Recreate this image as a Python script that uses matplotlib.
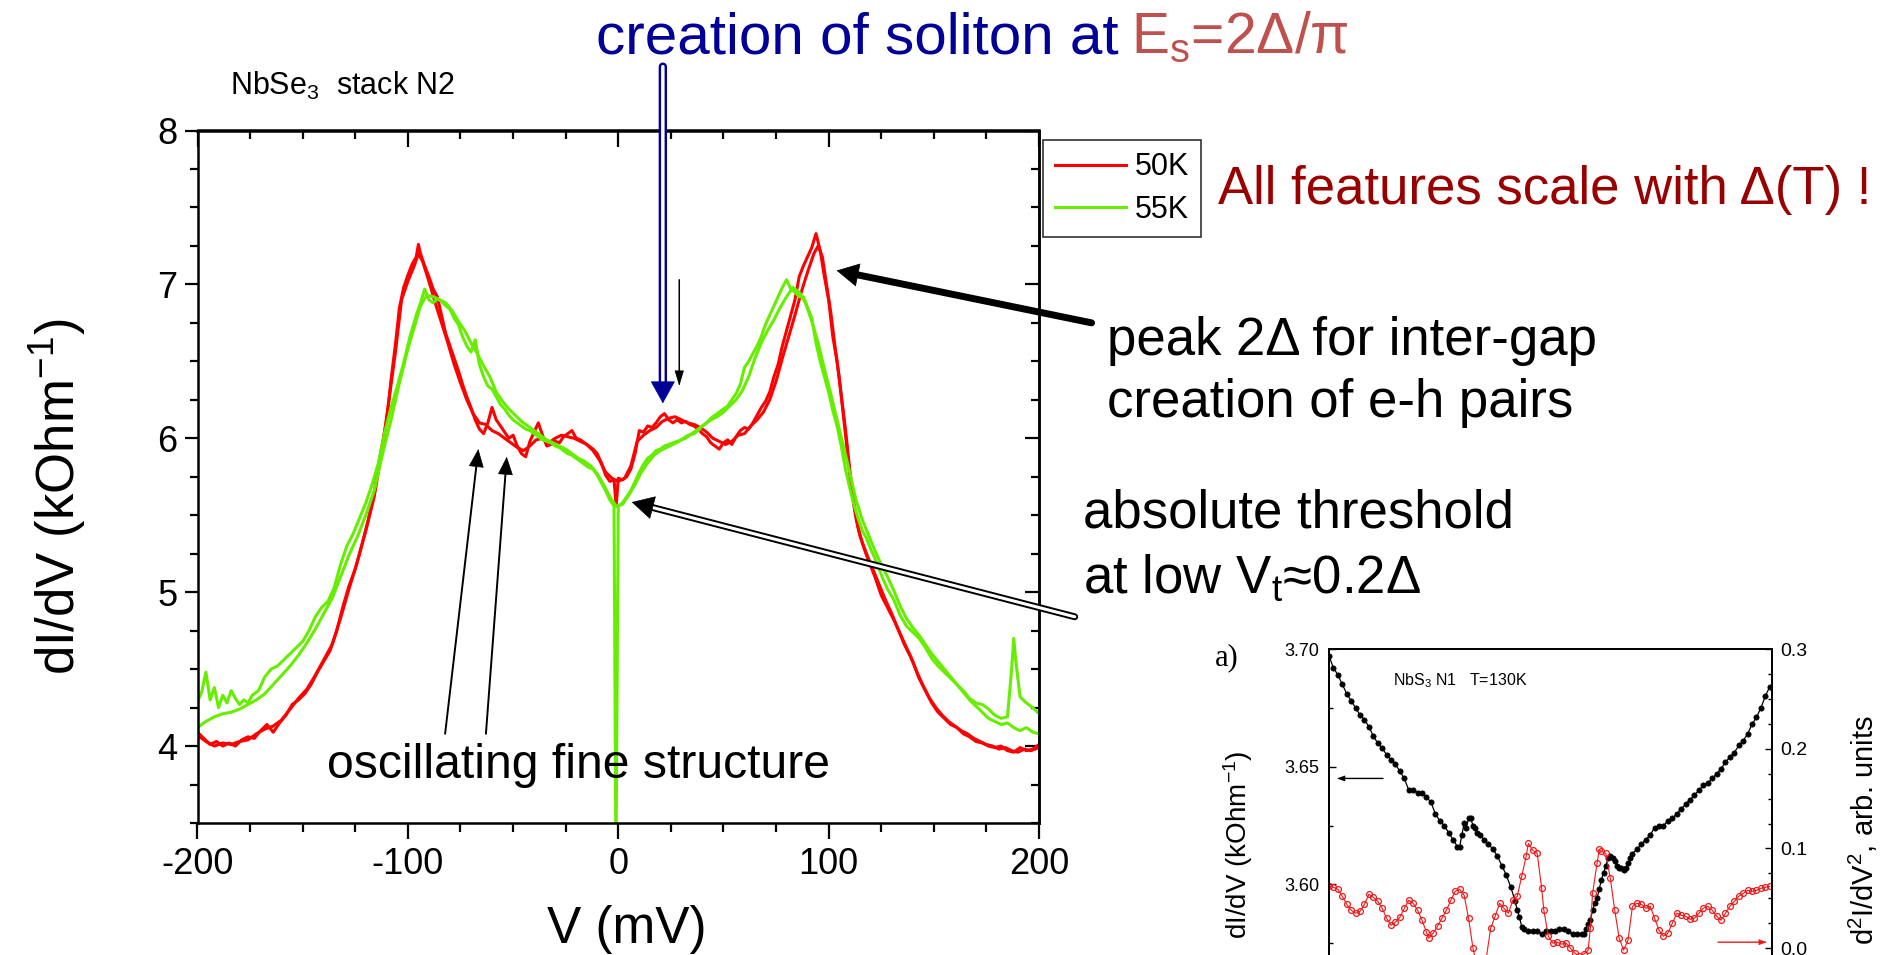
import numpy as np
import matplotlib
matplotlib.use("Agg")
import matplotlib.pyplot as plt
from matplotlib.ticker import MultipleLocator, FormatStrFormatter

plt.rcParams['font.family'] = ['Liberation Sans', 'DejaVu Sans']
plt.rcParams['mathtext.fontset'] = 'custom'
plt.rcParams['mathtext.rm'] = 'Liberation Sans'
plt.rcParams['mathtext.it'] = 'Liberation Sans:italic'
plt.rcParams['mathtext.bf'] = 'Liberation Sans:bold'
plt.rcParams['axes.unicode_minus'] = False

# ---------------- NbSe3 stack N2: dI/dV (kOhm^-1) vs V (mV) ----------------
# 50 K, first sweep
v_50k_a = [-200, -197, -194, -191, -188, -185, -182, -179, -176, -173,
           -170, -167, -164, -161, -158, -155, -152, -149, -146, -143,
           -140, -137, -134, -131, -128, -125, -122, -119, -116, -113,
           -110, -108, -106, -104, -102, -100, -98, -96, -95, -94,
           -92, -90, -88, -86, -84, -82, -80, -78, -76, -74,
           -72, -70, -68, -66, -64, -62, -60, -58, -56, -54,
           -52, -50, -48, -46, -44, -42, -40, -38, -36, -34,
           -32, -30, -28, -26, -24, -22, -20, -18, -16, -14,
           -12, -10, -8, -6, -4, -2, -1, 0, 2, 4,
           6, 8, 10, 12, 14, 16, 18, 20, 22, 24,
           26, 28, 30, 32, 34, 36, 38, 40, 42, 44,
           46, 48, 50, 52, 54, 56, 58, 60, 62, 64,
           66, 68, 70, 72, 74, 76, 78, 80, 82, 84,
           86, 88, 90, 92, 94, 96, 98, 100, 102, 104,
           106, 108, 110, 112, 114, 116, 118, 120, 122, 125,
           128, 131, 134, 137, 140, 143, 146, 149, 152, 155,
           158, 161, 164, 167, 170, 173, 176, 179, 182, 185,
           188, 191, 194, 197, 200]
g_50k_a = [4.09, 4.05, 4.01, 4.03, 4.00, 4.02, 4.00, 4.04, 4.06, 4.05,
           4.10, 4.14, 4.09, 4.15, 4.20, 4.27, 4.30, 4.34, 4.40, 4.48,
           4.55, 4.62, 4.74, 4.90, 5.04, 5.15, 5.30, 5.46, 5.65, 5.90,
           6.12, 6.38, 6.60, 6.85, 6.98, 7.06, 7.13, 7.18, 7.26, 7.20,
           7.12, 7.05, 6.97, 6.92, 6.80, 6.68, 6.60, 6.52, 6.44, 6.35,
           6.27, 6.20, 6.12, 6.06, 6.03, 6.10, 6.20, 6.12, 6.08, 6.04,
           6.00, 6.02, 5.95, 5.90, 5.88, 5.98, 6.04, 6.10, 6.02, 5.95,
           5.96, 5.98, 5.97, 6.01, 6.03, 6.05, 6.00, 5.99, 5.97, 5.95,
           5.93, 5.90, 5.84, 5.76, 5.72, 5.73, 5.56, 5.74, 5.73, 5.75,
           5.80, 5.90, 6.05, 6.04, 6.08, 6.07, 6.10, 6.14, 6.16, 6.12,
           6.10, 6.12, 6.10, 6.11, 6.09, 6.08, 6.06, 6.03, 6.01, 5.97,
           5.95, 5.93, 5.97, 5.99, 5.96, 6.01, 6.05, 6.07, 6.06, 6.10,
           6.15, 6.20, 6.24, 6.30, 6.40, 6.48, 6.60, 6.70, 6.80, 6.90,
           7.05, 7.12, 7.18, 7.24, 7.33, 7.22, 7.05, 6.90, 6.66, 6.50,
           6.28, 6.06, 5.80, 5.58, 5.42, 5.32, 5.24, 5.17, 5.10, 4.98,
           4.90, 4.82, 4.73, 4.64, 4.55, 4.44, 4.36, 4.28, 4.22, 4.18,
           4.14, 4.12, 4.08, 4.06, 4.03, 4.02, 4.00, 3.99, 4.00, 3.97,
           3.96, 3.99, 3.97, 3.98, 4.01]

# 50 K, return sweep
v_50k_b = [-200, -196, -192, -188, -184, -180, -176, -172, -168, -164,
           -160, -156, -152, -148, -144, -140, -136, -132, -128, -124,
           -120, -116, -112, -109, -106, -103, -100, -97, -95, -93,
           -90, -87, -84, -81, -78, -75, -72, -69, -66, -63,
           -60, -57, -54, -51, -48, -45, -42, -39, -36, -33,
           -30, -27, -24, -21, -18, -15, -12, -9, -6, -3,
           0, 3, 6, 9, 12, 15, 18, 21, 24, 27,
           30, 33, 36, 39, 42, 45, 48, 51, 54, 57,
           60, 63, 66, 69, 72, 75, 78, 81, 84, 87,
           90, 93, 95, 97, 99, 101, 103, 105, 107, 109,
           111, 113, 115, 118, 121, 124, 127, 130, 133, 136,
           139, 142, 145, 148, 151, 154, 157, 160, 163, 166,
           169, 172, 175, 178, 181, 184, 187, 190, 193, 196,
           200]
g_50k_b = [4.07, 4.03, 4.00, 4.02, 4.01, 4.03, 4.04, 4.08, 4.11, 4.13,
           4.17, 4.24, 4.31, 4.37, 4.46, 4.56, 4.66, 4.83, 5.02, 5.20,
           5.40, 5.62, 5.95, 6.25, 6.55, 6.90, 7.02, 7.12, 7.20, 7.15,
           7.02, 6.88, 6.75, 6.62, 6.48, 6.36, 6.25, 6.16, 6.10, 6.09,
           6.05, 6.03, 6.00, 5.97, 5.94, 5.92, 5.95, 5.99, 6.00, 5.97,
           6.00, 6.02, 6.01, 6.00, 5.98, 5.96, 5.92, 5.86, 5.78, 5.74,
           5.72, 5.74, 5.82, 5.98, 6.02, 6.05, 6.07, 6.11, 6.13, 6.14,
           6.12, 6.10, 6.09, 6.07, 6.04, 6.00, 5.98, 5.96, 5.98, 6.02,
           6.03, 6.08, 6.12, 6.17, 6.25, 6.37, 6.52, 6.66, 6.80, 6.95,
           7.08, 7.20, 7.25, 7.18, 7.00, 6.82, 6.60, 6.40, 6.15, 5.90,
           5.65, 5.48, 5.36, 5.25, 5.15, 5.05, 4.95, 4.86, 4.76, 4.66,
           4.58, 4.48, 4.39, 4.31, 4.25, 4.20, 4.16, 4.13, 4.10, 4.08,
           4.05, 4.03, 4.01, 4.00, 3.98, 3.99, 3.97, 3.96, 3.98, 3.97,
           3.99]

# 55 K, first sweep
v_55k_a = [-200, -198, -196, -194, -192, -190, -188, -186, -184, -182,
           -180, -178, -176, -174, -171, -168, -165, -162, -159, -156,
           -153, -150, -147, -144, -141, -138, -135, -132, -129, -126,
           -123, -120, -117, -114, -111, -108, -105, -102, -99, -96,
           -94, -92, -90, -88, -86, -84, -82, -80, -78, -76,
           -74, -72, -70, -68, -66, -64, -62, -60, -58, -56,
           -54, -52, -50, -48, -46, -44, -42, -40, -38, -36,
           -34, -32, -30, -28, -26, -24, -22, -20, -18, -16,
           -14, -12, -10, -8, -6, -4, -2, -1.1, 0, 2,
           4, 6, 8, 10, 12, 14, 16, 18, 20, 22,
           24, 26, 28, 30, 32, 34, 36, 38, 40, 42,
           44, 46, 48, 50, 52, 54, 56, 58, 60, 62,
           64, 66, 68, 70, 72, 74, 76, 78, 80, 82,
           84, 86, 88, 90, 92, 94, 96, 98, 100, 102,
           104, 106, 108, 110, 112, 114, 116, 118, 120, 122,
           124, 126, 128, 131, 134, 137, 140, 143, 146, 149,
           152, 155, 158, 161, 164, 167, 170, 173, 176, 179,
           182, 185, 187, 188, 189, 191, 194, 197, 200]
g_55k_a = [4.29, 4.35, 4.48, 4.30, 4.38, 4.25, 4.33, 4.28, 4.36, 4.31,
           4.27, 4.30, 4.28, 4.33, 4.36, 4.45, 4.50, 4.52, 4.56, 4.60,
           4.64, 4.68, 4.75, 4.84, 4.90, 4.94, 5.03, 5.18, 5.30, 5.38,
           5.48, 5.58, 5.70, 5.84, 6.04, 6.20, 6.34, 6.49, 6.66, 6.80,
           6.88, 6.97, 6.90, 6.88, 6.91, 6.89, 6.86, 6.84, 6.78, 6.74,
           6.66, 6.60, 6.56, 6.64, 6.48, 6.40, 6.34, 6.32, 6.27, 6.22,
           6.19, 6.15, 6.12, 6.10, 6.08, 6.06, 6.05, 6.03, 6.01, 5.99,
           5.98, 5.97, 5.95, 5.94, 5.92, 5.90, 5.89, 5.87, 5.85, 5.83,
           5.81, 5.80, 5.76, 5.71, 5.66, 5.60, 5.56, 3.20, 5.56, 5.58,
           5.62, 5.66, 5.72, 5.78, 5.83, 5.87, 5.89, 5.92, 5.93, 5.95,
           5.96, 5.97, 5.98, 5.99, 6.00, 6.02, 6.03, 6.05, 6.08, 6.10,
           6.13, 6.15, 6.17, 6.19, 6.21, 6.25, 6.29, 6.35, 6.46, 6.50,
           6.55, 6.60, 6.66, 6.74, 6.80, 6.86, 6.92, 6.98, 7.03, 6.97,
           6.95, 6.92, 6.92, 6.85, 6.78, 6.62, 6.50, 6.40, 6.30, 6.18,
           6.08, 5.95, 5.80, 5.68, 5.57, 5.48, 5.40, 5.35, 5.28, 5.22,
           5.15, 5.08, 5.02, 4.95, 4.85, 4.78, 4.74, 4.70, 4.64, 4.57,
           4.52, 4.48, 4.44, 4.40, 4.36, 4.31, 4.28, 4.27, 4.24, 4.20,
           4.18, 4.19, 4.50, 4.70, 4.55, 4.32, 4.28, 4.25, 4.21]

# 55 K, return sweep
v_55k_b = [-200, -196, -192, -188, -184, -180, -176, -172, -168, -164,
           -160, -156, -152, -148, -144, -140, -136, -132, -128, -124,
           -120, -116, -112, -108, -104, -100, -97, -94, -91, -88,
           -85, -82, -79, -76, -73, -70, -67, -64, -61, -58,
           -55, -52, -49, -46, -43, -40, -37, -34, -31, -28,
           -25, -22, -19, -16, -13, -10, -7, -4, -1, 2,
           5, 8, 11, 14, 17, 20, 23, 26, 29, 32,
           35, 38, 41, 44, 47, 50, 53, 56, 59, 62,
           65, 68, 71, 74, 77, 80, 83, 86, 89, 92,
           95, 98, 101, 104, 107, 110, 113, 116, 119, 122,
           125, 128, 131, 134, 137, 140, 143, 146, 149, 152,
           155, 158, 161, 164, 167, 170, 173, 176, 179, 182,
           185, 188, 191, 194, 197, 200]
g_55k_b = [4.12, 4.16, 4.19, 4.21, 4.22, 4.24, 4.27, 4.30, 4.34, 4.40,
           4.46, 4.52, 4.59, 4.67, 4.76, 4.86, 4.96, 5.10, 5.24, 5.36,
           5.50, 5.66, 5.90, 6.12, 6.36, 6.58, 6.72, 6.86, 6.93, 6.92,
           6.90, 6.88, 6.83, 6.76, 6.70, 6.62, 6.55, 6.47, 6.40, 6.30,
           6.24, 6.19, 6.15, 6.11, 6.08, 6.05, 6.02, 5.99, 5.97, 5.95,
           5.93, 5.90, 5.87, 5.85, 5.82, 5.77, 5.70, 5.62, 5.56, 5.57,
           5.63, 5.70, 5.78, 5.84, 5.89, 5.92, 5.94, 5.96, 5.98, 6.01,
           6.03, 6.06, 6.09, 6.12, 6.14, 6.17, 6.21, 6.25, 6.31, 6.40,
           6.52, 6.62, 6.70, 6.77, 6.85, 6.92, 6.98, 6.95, 6.88, 6.76,
           6.62, 6.45, 6.29, 6.12, 5.95, 5.78, 5.60, 5.47, 5.37, 5.27,
           5.18, 5.10, 5.01, 4.91, 4.83, 4.77, 4.72, 4.66, 4.60, 4.55,
           4.50, 4.45, 4.40, 4.35, 4.30, 4.26, 4.22, 4.18, 4.16, 4.14,
           4.15, 4.12, 4.10, 4.12, 4.09, 4.08]

series_labels = ['50K', '55K']
series_colors = ['#ff0000', '#66ee00']

x_ticks = [-200, -100, 0, 100, 200]
y_ticks = [4, 5, 6, 7, 8]

# ---------------- NbS3 N1, T = 130 K ----------------
v_nbs3 = [-100, -98, -96, -94, -92, -90, -88, -86, -84, -82,
          -80, -78, -76, -74, -72, -70, -68, -66, -64, -62,
          -60, -58, -56, -54, -52, -50, -48, -46, -44, -42,
          -41, -40, -39, -38, -37, -36, -35, -34, -33, -32,
          -30, -28, -26, -24, -22, -20, -18, -16, -15, -14,
          -13, -12, -10, -8, -6, -4, -2, 0, 2, 4,
          6, 8, 10, 12, 14, 15, 16, 17, 18, 19,
          20, 21, 22, 23, 24, 25, 26, 27, 28, 29,
          30, 31, 32, 33, 34, 35, 36, 37, 39, 41,
          43, 45, 47, 49, 51, 53, 55, 57, 59, 61,
          63, 65, 67, 69, 71, 73, 75, 77, 79, 81,
          83, 85, 87, 89, 91, 93, 95, 97, 99]
g_nbs3 = [3.697, 3.692, 3.689, 3.685, 3.681, 3.678, 3.675, 3.672, 3.670, 3.667,
          3.663, 3.660, 3.658, 3.655, 3.653, 3.651, 3.648, 3.645, 3.640, 3.640,
          3.639, 3.639, 3.637, 3.635, 3.630, 3.627, 3.625, 3.622, 3.619, 3.616,
          3.616, 3.621, 3.626, 3.624, 3.628, 3.628, 3.625, 3.624, 3.622, 3.621,
          3.619, 3.617, 3.615, 3.612, 3.608, 3.604, 3.599, 3.593, 3.589, 3.586,
          3.582, 3.581, 3.580, 3.580, 3.580, 3.579, 3.580, 3.580, 3.580, 3.581,
          3.581, 3.580, 3.579, 3.579, 3.579, 3.579, 3.581, 3.583, 3.585, 3.589,
          3.592, 3.594, 3.598, 3.602, 3.605, 3.608, 3.611, 3.612, 3.611, 3.610,
          3.608, 3.607, 3.607, 3.606, 3.607, 3.609, 3.611, 3.613, 3.615, 3.617,
          3.619, 3.621, 3.624, 3.625, 3.625, 3.627, 3.628, 3.630, 3.632, 3.634,
          3.636, 3.638, 3.640, 3.642, 3.643, 3.645, 3.647, 3.649, 3.652, 3.654,
          3.656, 3.659, 3.661, 3.664, 3.668, 3.671, 3.675, 3.680, 3.684]
g_nbs3_ticks = [3.60, 3.65, 3.70]

v_nbs3_d2 = [-100, -98, -96, -94, -92, -90, -88, -86, -84, -82,
             -80, -78, -76, -74, -72, -70, -68, -66, -64, -62,
             -60, -58, -56, -55, -53, -51, -49, -47, -45, -43,
             -41, -39, -37, -35, -33, -31, -29, -27, -25, -23,
             -21, -19, -17, -15, -13, -11, -10, -8, -6, -4,
             -3, -1, 1, 3, 5, 7, 9, 11, 13, 15,
             17, 18, 19, 21, 22, 23, 25, 27, 29, 31,
             33, 35, 37, 39, 41, 43, 45, 47, 49, 51,
             53, 55, 57, 59, 61, 63, 65, 67, 69, 71,
             73, 75, 77, 79, 81, 83, 85, 87, 89, 91,
             93, 95, 97, 99]
d2_nbs3 = [0.062, 0.061, 0.059, 0.052, 0.044, 0.038, 0.035, 0.037, 0.044, 0.054,
           0.051, 0.047, 0.040, 0.030, 0.023, 0.026, 0.031, 0.040, 0.048, 0.045,
           0.038, 0.028, 0.016, 0.010, 0.015, 0.022, 0.030, 0.038, 0.048, 0.057,
           0.059, 0.053, 0.030, 0.000, -0.020, -0.025, -0.010, 0.020, 0.032, 0.045,
           0.040, 0.035, 0.048, 0.052, 0.072, 0.092, 0.105, 0.098, 0.095, 0.060,
           0.038, 0.012, 0.005, 0.006, 0.004, 0.005, 0.000, -0.005, -0.008, -0.006,
           -0.002, 0.020, 0.055, 0.085, 0.099, 0.097, 0.095, 0.070, 0.038, 0.010,
           -0.002, 0.008, 0.042, 0.045, 0.044, 0.040, 0.042, 0.030, 0.018, 0.012,
           0.015, 0.025, 0.035, 0.033, 0.032, 0.029, 0.030, 0.035, 0.040, 0.042,
           0.038, 0.032, 0.028, 0.035, 0.042, 0.047, 0.052, 0.055, 0.058, 0.057,
           0.058, 0.060, 0.061, 0.062]
d2_nbs3_ticks = [0.0, 0.1, 0.2, 0.3]

W, H = 1894, 955
fig = plt.figure(figsize=(W / 100, H / 100), dpi=100)
fig.patch.set_facecolor('white')


def fx(px):
    return px / W


def fy(py):
    return 1 - py / H


def arrow(axx, tip, tail, color, lw, head_len, head_w, inner=None):
    """Straight arrow in data coordinates; optional hollow (double-line) shaft."""
    tr = axx.transData
    p1 = np.asarray(tr.transform(tip), float)
    p0 = np.asarray(tr.transform(tail), float)
    d = p1 - p0
    u = d / np.hypot(*d)
    base = tr.inverted().transform(p1 - u * head_len * fig.dpi / 72.0)
    kw = dict(xycoords='data', textcoords='data', annotation_clip=False)
    axx.annotate('', xy=base, xytext=tail,
                 arrowprops=dict(arrowstyle='-', lw=lw, color=color,
                                 shrinkA=0, shrinkB=0), **kw)
    if inner:
        axx.annotate('', xy=base, xytext=tail,
                     arrowprops=dict(arrowstyle='-', lw=inner, color='white',
                                     shrinkA=0, shrinkB=0), **kw)
    axx.annotate('', xy=tip, xytext=base,
                 arrowprops=dict(arrowstyle=f'-|>,head_length={head_len},head_width={head_w}',
                                 lw=0.5, color=color, shrinkA=0, shrinkB=0,
                                 mutation_scale=1), **kw)


# ---------------- main panel ----------------
ax = fig.add_axes([fx(197.5), fy(823), fx(1039 - 197.5), (823 - 130.5) / H])
lw_curve = 2.2
l50, = ax.plot(v_50k_a, g_50k_a, color=series_colors[0], lw=lw_curve, label=series_labels[0])
ax.plot(v_50k_b, g_50k_b, color=series_colors[0], lw=lw_curve)
l55, = ax.plot(v_55k_a, g_55k_a, color=series_colors[1], lw=lw_curve, label=series_labels[1])
ax.plot(v_55k_b, g_55k_b, color=series_colors[1], lw=lw_curve)

ax.set_xlim(-200, 200)
ax.set_ylim(3.5, 8)
ax.set_xticks(x_ticks)
ax.set_yticks(y_ticks)
ax.xaxis.set_minor_locator(MultipleLocator(25))
ax.yaxis.set_minor_locator(MultipleLocator(0.25))
for s in ax.spines.values():
    s.set_linewidth(1.8)
ax.tick_params(which='both', direction='out', width=1.6, top=False, right=False,
               labelsize=26)
ax.tick_params(axis='x', which='major', length=11.5, pad=6)
ax.tick_params(axis='x', which='minor', length=6.5)
ax.tick_params(axis='y', which='major', length=9.5, pad=5)
ax.tick_params(axis='y', which='minor', length=6)

sec_x = ax.secondary_xaxis('top')
sec_x.xaxis.set_major_locator(MultipleLocator(100))
sec_x.xaxis.set_minor_locator(MultipleLocator(25))
sec_x.tick_params(which='both', direction='in', width=1.6, labeltop=False)
sec_x.tick_params(which='major', length=12)
sec_x.tick_params(which='minor', length=6.5)
sec_x.spines['top'].set_linewidth(1.8)

sec_y = ax.secondary_yaxis('right')
sec_y.yaxis.set_major_locator(MultipleLocator(1))
sec_y.yaxis.set_minor_locator(MultipleLocator(0.25))
sec_y.tick_params(which='both', direction='in', width=1.6, labelright=False)
sec_y.tick_params(which='major', length=10)
sec_y.tick_params(which='minor', length=6)
sec_y.spines['right'].set_linewidth(1.8)

ax.set_xlabel('V (mV)', fontsize=37, va='baseline')
ax.xaxis.set_label_coords(0.510, (823 - 943) / (823 - 130.5))
ax.set_ylabel(r'dI/dV (kOhm$^\mathregular{-1}$)', fontsize=38, va='baseline')
ax.yaxis.set_label_coords((75 - 197.5) / (1039 - 197.5), 0.471)

leg = ax.legend(handles=[l50, l55], loc='upper left',
                bbox_to_anchor=(fx(1043), fy(140)), bbox_transform=fig.transFigure,
                borderaxespad=0, fontsize=22, frameon=True, fancybox=False,
                edgecolor='#333333', handlelength=2.3, handletextpad=0.3,
                labelspacing=0.42, borderpad=0.4)
leg.get_frame().set_linewidth(1.2)
leg.get_frame().set_alpha(1)

fig.text(fx(230), fy(95), r'NbSe$_\mathregular{3}$  stack N2', fontsize=22, va='baseline')

# annotation arrows (data coordinates of the main panel)
arrow(ax, (21.2, 6.227), (21.2, 8.415), '#000099', 6.0, 15, 8.3, inner=2.5)
arrow(ax, (29.0, 6.34), (29.0, 7.03), 'black', 1.1, 10, 3)
arrow(ax, (103.8, 7.09), (225.0, 6.75), 'black', 5.0, 15, 8)
arrow(ax, (6.4, 5.585), (217.0, 4.84), 'black', 5.0, 15, 8, inner=2.2)
arrow(ax, (-66.5, 5.93), (-82.3, 4.08), 'black', 1.4, 12, 5)
arrow(ax, (-53.0, 5.88), (-62.9, 4.08), 'black', 1.4, 12, 5)

# slide text
fig.text(fx(596), fy(53), 'creation of soliton at', color='#000099', fontsize=42,
         va='baseline')
fig.text(fx(1131), fy(53), r'E$_\mathregular{s}$=2Δ/π', color='#c0504d', fontsize=41,
         va='baseline')
fig.text(fx(1218), fy(204), 'All features scale with Δ(T) !', color='#990000', fontsize=38,
         va='baseline')
fig.text(fx(1107), fy(355), 'peak 2Δ for inter-gap', fontsize=38, va='baseline')
fig.text(fx(1107), fy(417), 'creation of e-h pairs', fontsize=38, va='baseline')
fig.text(fx(1083), fy(528), 'absolute threshold', fontsize=38, va='baseline')
fig.text(fx(1083), fy(593), r'at low V$_\mathregular{t}$≈0.2Δ', fontsize=38, va='baseline')
fig.text(fx(327), fy(778), 'oscillating fine structure', fontsize=34.7, va='baseline')

# ---------------- NbS3 panel (lower right) ----------------
axi = fig.add_axes([fx(1329), fy(1002), fx(1772 - 1329), (1002 - 649) / H])
axi.plot(v_nbs3, g_nbs3, color='black', lw=0.9, marker='o', ms=3.8, mec='black',
         mfc='black', mew=0.5)
axi.set_xlim(-100, 100)
axi.set_ylim(3.55, 3.70)
axi.set_yticks(g_nbs3_ticks)
axi.yaxis.set_minor_locator(MultipleLocator(0.025))
axi.yaxis.set_major_formatter(FormatStrFormatter('%.2f'))
axi.set_xticks([])
axi.tick_params(axis='y', which='both', direction='in', width=1, labelsize=13, pad=7)
axi.tick_params(axis='y', which='major', length=5)
axi.tick_params(axis='y', which='minor', length=3)

axr = axi.twinx()
axr.plot(v_nbs3_d2, d2_nbs3, color='#f01818', lw=0.8, marker='o', ms=4.2, mfc='none',
         mec='#f01818', mew=0.9)
axr.set_ylim(-0.054, 0.3)
axr.set_yticks(d2_nbs3_ticks)
axr.yaxis.set_minor_locator(MultipleLocator(0.025))
axr.yaxis.set_major_formatter(FormatStrFormatter('%.1f'))
axr.tick_params(axis='y', which='both', direction='in', width=1, labelsize=14, pad=6)
axr.tick_params(axis='y', which='major', length=5)
axr.tick_params(axis='y', which='minor', length=3)
for a in (axi, axr):
    for s in a.spines.values():
        s.set_linewidth(1.3)

arrow(axi, (-96.4, 3.645), (-75.6, 3.645), 'black', 1.0, 5, 1.8)
arrow(axr, (97.7, 0.006), (75.6, 0.006), '#f01818', 1.0, 5, 1.8)

fig.text(fx(1215), fy(665), 'a)', fontsize=22, family='Liberation Serif', va='baseline')
fig.text(fx(1393), fy(685), r'NbS$_\mathregular{3}$ N1   T=130K', fontsize=11.5, va='baseline')
fig.text(fx(1238), fy(845), r'dI/dV (kOhm$^\mathregular{-1}$)', fontsize=20, rotation=90,
         ha='center', va='center')
fig.text(fx(1863), fy(830), r'd$^\mathregular{2}$I/dV$^\mathregular{2}$, arb. units',
         fontsize=21, rotation=90, ha='center', va='center')

fig.savefig('out.png', dpi=100, facecolor='white')
